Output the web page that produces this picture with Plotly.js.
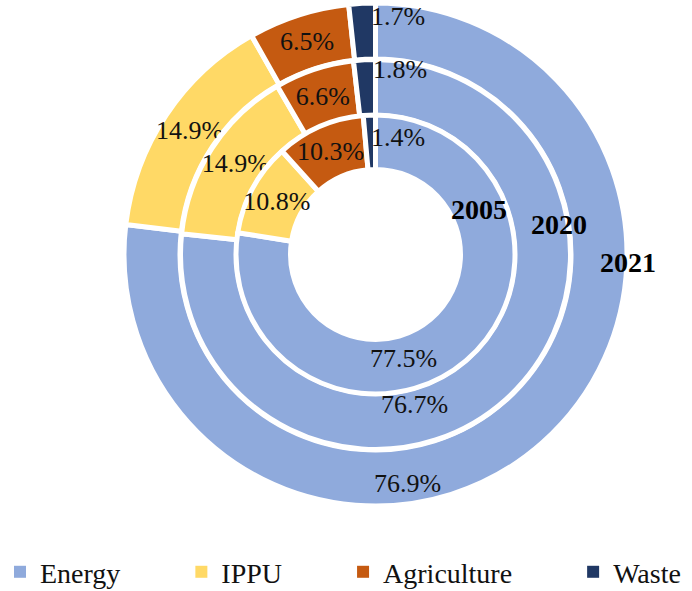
<!DOCTYPE html>
<html>
<head>
<meta charset="utf-8">
<script src="https://cdn.plot.ly/plotly-3.0.1.min.js"></script>
<style>
html,body{margin:0;padding:0;background:#ffffff;}
#chart{width:692px;height:591px;}
</style>
</head>
<body>
<div id="chart"></div>
<script>
// ---- data ----
const categories = ['Energy', 'IPPU', 'Agriculture', 'Waste'];
const years = ['2005', '2020', '2021'];
const share2005 = [77.5, 10.8, 10.3, 1.4];
const share2020 = [76.7, 14.9, 6.6, 1.8];
const share2021 = [76.9, 14.9, 6.5, 1.7];

// ---- styling / layout ----
const colors = ['#8FAADC', '#FFD966', '#C55A11', '#203864'];
const W = 692, H = 591;
const CX = 375.5, CY = 254.5;          // pie centre (px)
const FONT = 'Liberation Serif, Times New Roman, serif';
const ringGeom = [                      // [inner, outer] radius in px
  [85, 139.5],
  [139, 195],
  [195.5, 251.5]
];
const ringValues = [share2005, share2020, share2021];
// which slices carry the library's own inside label
const slicePos = ['none', 'inside', 'inside', 'none'];
// hand-placed label positions (px) for Energy and Waste slices, and year tags
const energyLabelPx = [[403, 358], [414, 404], [407, 483]];
const wasteLabelPx = [[398, 137], [400, 70], [398, 16]];
const yearLabelPx = [[479, 209], [558.5, 225], [627.5, 262.5]];

function domainFor(R) {
  return {
    x: [(CX - R) / W, (CX + R) / W],
    y: [(H - CY - R) / H, (H - CY + R) / H]
  };
}
const fmt = v => v.toFixed(1) + '%';

const traces = [];
// legend carrier (drawn first, completely covered by the outer ring)
traces.push({
  type: 'pie',
  labels: categories.map((c, i) => i < categories.length - 1 ? c + '\u00a0'.repeat(8) : c),
  values: ringValues[2],
  domain: domainFor(ringGeom[2][1]),
  hole: ringGeom[2][0] / ringGeom[2][1],
  sort: false, direction: 'clockwise', rotation: 0,
  marker: {colors: colors, line: {color: '#ffffff', width: 0}},
  textinfo: 'none',
  hoverinfo: 'skip',
  showlegend: true
});
// rings, outer first
[2, 1, 0].forEach(k => {
  const [r0, r1] = ringGeom[k];
  traces.push({
    type: 'pie',
    name: years[k],
    labels: categories,
    values: ringValues[k],
    domain: domainFor(r1),
    hole: r0 / r1,
    sort: false, direction: 'clockwise', rotation: 0,
    marker: {colors: colors, line: {color: '#ffffff', width: 5}},
    text: ringValues[k].map(fmt),
    textinfo: 'text',
    textposition: slicePos,
    insidetextorientation: 'horizontal',
    textfont: {family: FONT, size: 26, color: '#111111'},
    hoverinfo: 'label+text+name',
    showlegend: false
  });
});

const annotations = [];
ringValues.forEach((vals, k) => {
  annotations.push({
    xref: 'paper', yref: 'paper',
    x: energyLabelPx[k][0] / W, y: 1 - energyLabelPx[k][1] / H,
    xanchor: 'center', yanchor: 'middle', showarrow: false,
    text: fmt(vals[0]),
    font: {family: FONT, size: 26, color: '#111111'}
  });
  annotations.push({
    xref: 'paper', yref: 'paper',
    x: wasteLabelPx[k][0] / W, y: 1 - wasteLabelPx[k][1] / H,
    xanchor: 'center', yanchor: 'middle', showarrow: false,
    text: fmt(vals[3]),
    font: {family: FONT, size: 26, color: '#111111'}
  });
  annotations.push({
    xref: 'paper', yref: 'paper',
    x: yearLabelPx[k][0] / W, y: 1 - yearLabelPx[k][1] / H,
    xanchor: 'center', yanchor: 'middle', showarrow: false,
    text: '<b>' + years[k] + '</b>',
    font: {family: FONT, size: 28, color: '#000000'}
  });
});

const layout = {
  width: W, height: H,
  margin: {l: 0, r: 0, t: 0, b: 0, pad: 0, autoexpand: false},
  paper_bgcolor: '#ffffff',
  plot_bgcolor: '#ffffff',
  showlegend: true,
  legend: {
    orientation: 'h',
    x: 0, xanchor: 'left',
    y: 0.032, yanchor: 'middle',
    font: {family: FONT, size: 28, color: '#111111'},
    bgcolor: 'rgba(0,0,0,0)',
    borderwidth: 0,
    traceorder: 'normal'
  },
  uniformtext: {mode: 'show', minsize: 26},
  annotations: annotations
};

Plotly.newPlot('chart', traces, layout, {displayModeBar: false, responsive: false});
</script>
</body>
</html>
